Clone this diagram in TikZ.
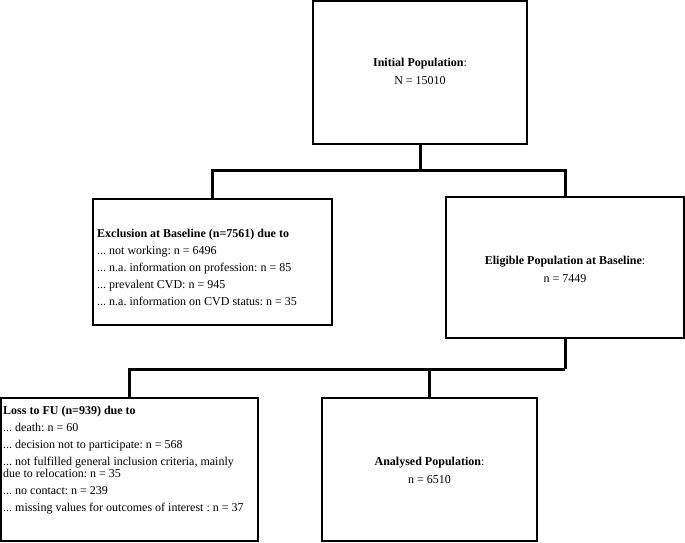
\documentclass[tikz,border=0pt]{standalone}
\usepackage{fontspec}
\setmainfont{Liberation Serif}
\frenchspacing
\begin{document}
\begin{tikzpicture}[x=1pt,y=-1pt,
  box/.style={draw=black, line width=1.2pt, rectangle, inner sep=0pt},
  txt/.style={font=\fontsize{12}{12}\selectfont, inner sep=0pt},
  conn/.style={line width=3pt, line join=miter}]
\useasboundingbox (0,0) rectangle (685,542);
% boxes
\node[box, minimum width=214pt, minimum height=143pt] (init) at (420,72.5) {};
\node[box, minimum width=239pt, minimum height=126pt] (excl) at (212.5,262) {};
\node[box, minimum width=238pt, minimum height=141pt] (elig) at (565,267.5) {};
\node[box, minimum width=257pt, minimum height=143pt] (loss) at (129.5,469.5) {};
\node[box, minimum width=215pt, minimum height=143pt] (anal) at (429.5,469.5) {};
% texts
\node[txt, align=center] (initt) at (420,71) {\textbf{Initial Population}:\\[6pt]N = 15010};
\node[txt, align=center] (eligt) at (565,269) {\textbf{Eligible Population at Baseline}:\\[6pt]n = 7449};
\node[txt, align=center] (analt) at (429.5,470) {\textbf{Analysed Population}:\\[6pt]n = 6510};
\node[txt, align=left, anchor=west] (exclt) at (97,267) {\textbf{Exclusion at Baseline (n=7561) due to}\\[5pt]
... not working: n = 6496\\[5pt]
... n.a. information on profession: n = 85\\[5pt]
... prevalent CVD: n = 945\\[5pt]
... n.a. information on CVD status: n = 35};
\node[txt, align=left, anchor=west] (losst) at (3,460) {\textbf{Loss to FU (n=939) due to}\\[5pt]
... death: n = 60\\[5pt]
... decision not to participate: n = 568\\[5pt]
... not fulfilled general inclusion criteria, mainly\\
due to relocation: n = 35\\[5pt]
... no contact: n = 239\\[5pt]
... missing values for outcomes of interest : n = 37};
% connectors
\coordinate (j1) at (420,170);
\coordinate (j2) at (565,369);
\draw[conn] (init.south) -- (j1);
\draw[conn] (excl.north) |- (j1) -| (elig.north);
\draw[conn] (elig.south) -- (j2);
\draw[conn] (loss.north) |- (j2);
\draw[conn] (anal.north) -- (anal.north |- j2);
\end{tikzpicture}
\end{document}
